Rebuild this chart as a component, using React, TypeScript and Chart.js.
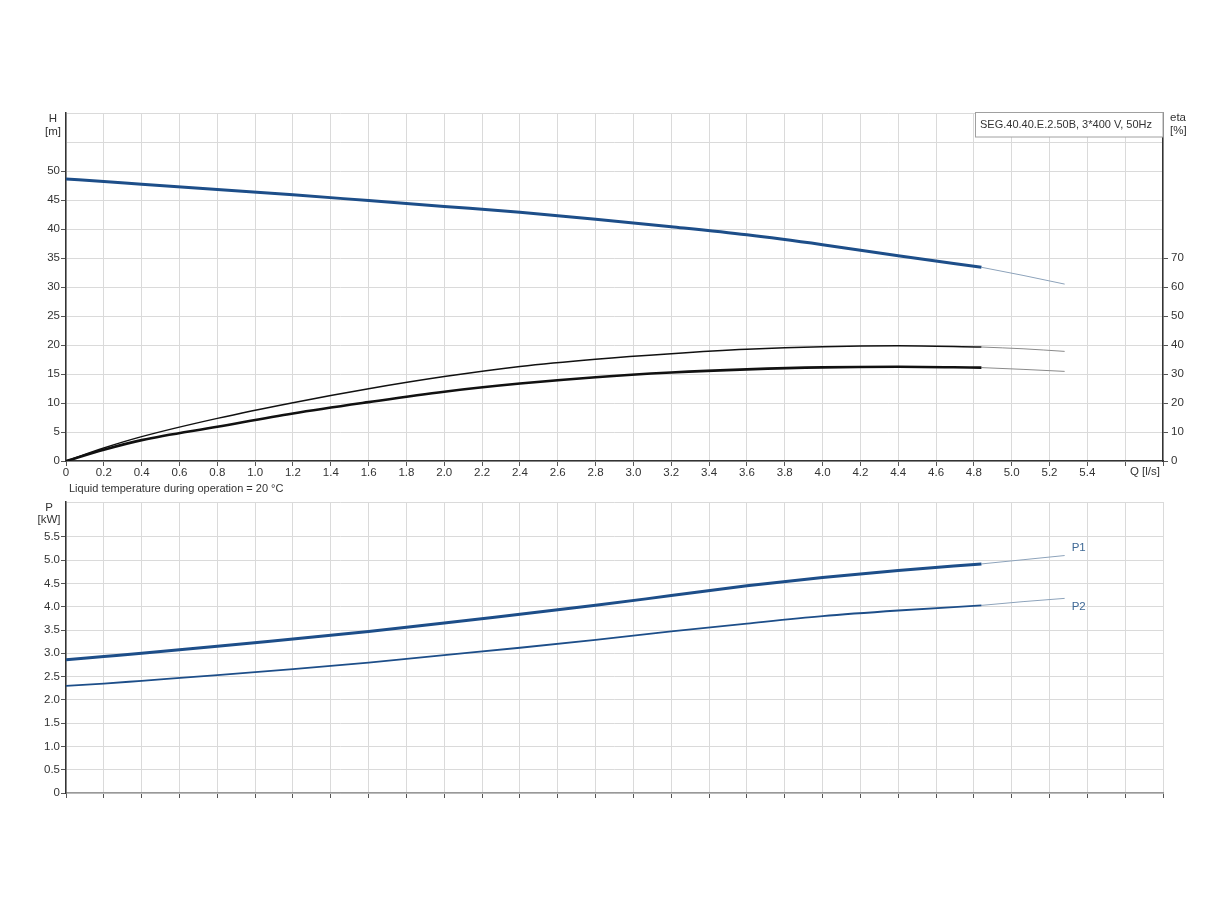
import React, { useEffect, useRef } from 'react';
import { Chart, registerables } from 'chart.js';

Chart.register(...registerables);

// Flow values (l/s) where the curves were read
const Q_MAIN = [0, 0.2, 0.4, 0.8, 1.2, 1.6, 2.0, 2.4, 2.8, 3.2, 3.6, 4.0, 4.4, 4.84];
const Q_EXT = [4.84, 5.06, 5.28];

// Head H [m]
const H_MAIN = [48.6, 48.2, 47.7, 46.8, 45.9, 44.9, 43.9, 42.9, 41.7, 40.4, 39.0, 37.3, 35.4, 33.4];
const H_EXT = [33.4, 32.0, 30.5];

// Pump efficiency eta [%]
const ETA_MAIN = [0, 4.5, 8.4, 14.7, 20.1, 24.9, 29.1, 32.6, 35.1, 37.0, 38.5, 39.4, 39.7, 39.3];
const ETA_EXT = [39.3, 38.7, 37.8];

// Total efficiency eta [%]
const ETA_TOT_MAIN = [0, 3.9, 7.2, 11.8, 16.4, 20.3, 23.9, 26.7, 28.9, 30.5, 31.6, 32.3, 32.5, 32.2];
const ETA_TOT_EXT = [32.2, 31.6, 30.9];

// Power P1 / P2 [kW]
const P1_MAIN = [2.86, 2.93, 3.0, 3.15, 3.31, 3.47, 3.65, 3.84, 4.03, 4.24, 4.45, 4.63, 4.78, 4.92];
const P1_EXT = [4.92, 5.01, 5.10];
const P2_MAIN = [2.30, 2.35, 2.41, 2.53, 2.66, 2.80, 2.96, 3.12, 3.29, 3.47, 3.64, 3.80, 3.92, 4.03];
const P2_EXT = [4.03, 4.11, 4.18];

const TITLE = 'SEG.40.40.E.2.50B, 3*400 V, 50Hz';
const NOTE = 'Liquid temperature during operation = 20 °C';

const FONT = 'Arial, "Liberation Sans", sans-serif';
const TEXT = '#333333';
const GRID = '#dadada';
const BLUE = '#1d4e89';
const BLUE_THIN = '#8da3bb';
const BLACK = '#111111';
const GRAY_THIN = '#8a8a8a';

const pts = (xs: number[], ys: number[]) => xs.map((x, i) => ({ x, y: ys[i] }));

const line = (data: any, color: string, width: number, yAxisID = 'y') => ({
  data,
  borderColor: color,
  borderWidth: width,
  pointRadius: 0,
  fill: false,
  cubicInterpolationMode: 'monotone' as const,
  yAxisID,
});

const xFmt = (v: any) => {
  const n = Number(v);
  if (n > 5.5) return '';
  return n === 0 ? '0' : n.toFixed(1);
};

export default function App() {
  const topRef = useRef<HTMLCanvasElement>(null);
  const botRef = useRef<HTMLCanvasElement>(null);

  useEffect(() => {
    Chart.defaults.font.family = FONT;
    Chart.defaults.font.size = 11.5;
    Chart.defaults.color = TEXT;

    const topPlugin = {
      id: 'topText',
      afterDraw(chart: any) {
        const ctx = chart.ctx;
        const a = chart.chartArea;
        ctx.save();
        ctx.font = `11.5px ${FONT}`;
        ctx.fillStyle = TEXT;
        ctx.textBaseline = 'middle';
        ctx.textAlign = 'center';
        ctx.fillText('H', 53, a.top + 6);
        ctx.fillText('[m]', 53, a.top + 19);
        ctx.textAlign = 'left';
        ctx.fillText('eta', a.right + 7, a.top + 5);
        ctx.fillText('[%]', a.right + 7, a.top + 18);
        // legend box
        ctx.fillStyle = '#ffffff';
        ctx.fillRect(975, a.top, a.right - 975, 24);
        ctx.strokeStyle = '#a0a0a0';
        ctx.lineWidth = 1;
        ctx.strokeRect(975.5, a.top - 0.5, a.right - 975.5, 24.5);
        ctx.fillStyle = TEXT;
        ctx.font = `11px ${FONT}`;
        ctx.fillText(TITLE, 980, a.top + 12);
        ctx.font = `11.5px ${FONT}`;
        ctx.textAlign = 'right';
        ctx.fillText('Q [l/s]', a.right - 3, a.bottom + 11);
        ctx.textAlign = 'left';
        ctx.font = `11px ${FONT}`;
        ctx.fillText(NOTE, 69, a.bottom + 28);
        ctx.restore();
      },
    };

    const botPlugin = {
      id: 'botText',
      afterDraw(chart: any) {
        const ctx = chart.ctx;
        const a = chart.chartArea;
        const xs = chart.scales.x;
        const ys = chart.scales.y;
        ctx.save();
        ctx.font = `11.5px ${FONT}`;
        ctx.fillStyle = TEXT;
        ctx.textBaseline = 'middle';
        ctx.textAlign = 'center';
        ctx.fillText('P', 49, a.top + 6);
        ctx.fillText('[kW]', 49, a.top + 18);
        ctx.textAlign = 'left';
        ctx.fillStyle = '#3f6996';
        const xe = xs.getPixelForValue(Q_EXT[Q_EXT.length - 1]) + 7;
        ctx.fillText('P1', xe, ys.getPixelForValue(P1_EXT[P1_EXT.length - 1]) - 8);
        ctx.fillText('P2', xe, ys.getPixelForValue(P2_EXT[P2_EXT.length - 1]) + 8);
        ctx.restore();
      },
    };

    const xScale = (showLabels: boolean, borderColor: string) => ({
      type: 'linear' as const,
      min: 0,
      max: 5.8,
      ticks: {
        stepSize: 0.2,
        autoSkip: false,
        maxRotation: 0,
        padding: 0,
        display: showLabels,
        callback: xFmt,
        color: TEXT,
      },
      grid: { color: GRID, lineWidth: 1, tickLength: 5, tickColor: '#555' },
      border: { display: true, color: borderColor, width: 1.5 },
      afterFit: (s: any) => { s.height = showLabels ? 25 : 10; },
    });

    const top = new Chart(topRef.current!, {
      type: 'line',
      data: {
        datasets: [
          line(pts(Q_MAIN, H_MAIN), BLUE, 3),
          line(pts(Q_EXT, H_EXT), BLUE_THIN, 1),
          line(pts(Q_MAIN, ETA_MAIN), BLACK, 1.5, 'y2'),
          line(pts(Q_EXT, ETA_EXT), GRAY_THIN, 1, 'y2'),
          line(pts(Q_MAIN, ETA_TOT_MAIN), BLACK, 2.6, 'y2'),
          line(pts(Q_EXT, ETA_TOT_EXT), GRAY_THIN, 1, 'y2'),
        ] as any,
      },
      options: {
        responsive: false,
        animation: false,
        events: [],
        layout: { padding: { top: 113, bottom: 14, left: 0, right: 0 } },
        plugins: { legend: { display: false }, tooltip: { enabled: false } },
        scales: {
          x: xScale(true, '#333'),
          y: {
            type: 'linear',
            min: 0,
            max: 60,
            ticks: {
              stepSize: 5,
              padding: 1,
              color: TEXT,
              callback: (v: any) => (Number(v) > 50 ? '' : String(v)),
            },
            grid: {
              color: GRID,
              lineWidth: 1,
              tickLength: 5,
              tickColor: (c: any) => (c.tick && c.tick.value > 50 ? 'rgba(0,0,0,0)' : '#555'),
            },
            border: { display: true, color: '#333', width: 1.5 },
            afterFit: (s: any) => { s.width = 66; },
          },
          y2: {
            type: 'linear',
            position: 'right',
            min: 0,
            max: 120,
            ticks: {
              stepSize: 10,
              padding: 3,
              color: TEXT,
              callback: (v: any) => (Number(v) > 70 ? '' : String(v)),
            },
            grid: {
              drawOnChartArea: false,
              tickLength: 5,
              tickColor: (c: any) => (c.tick && c.tick.value > 70 ? 'rgba(0,0,0,0)' : '#555'),
            },
            border: { display: true, color: '#333', width: 1.5 },
            afterFit: (s: any) => { s.width = 61; },
          },
        },
      } as any,
      plugins: [topPlugin],
    });

    const bot = new Chart(botRef.current!, {
      type: 'line',
      data: {
        datasets: [
          line(pts(Q_MAIN, P1_MAIN), BLUE, 3),
          line(pts(Q_EXT, P1_EXT), BLUE_THIN, 1),
          line(pts(Q_MAIN, P2_MAIN), BLUE, 1.8),
          line(pts(Q_EXT, P2_EXT), BLUE_THIN, 1),
        ] as any,
      },
      options: {
        responsive: false,
        animation: false,
        events: [],
        layout: { padding: { top: 22, bottom: 97, left: 0, right: 61 } },
        plugins: { legend: { display: false }, tooltip: { enabled: false } },
        scales: {
          x: xScale(false, '#999'),
          y: {
            type: 'linear',
            min: 0,
            max: 6.25,
            ticks: {
              stepSize: 0.5,
              padding: 1,
              color: TEXT,
              callback: (v: any) => {
                const n = Number(v);
                if (n > 5.5) return '';
                return n === 0 ? '0' : n.toFixed(1);
              },
            },
            grid: {
              color: GRID,
              lineWidth: 1,
              tickLength: 5,
              tickColor: (c: any) => (c.tick && c.tick.value > 6.1 ? 'rgba(0,0,0,0)' : '#555'),
            },
            border: { display: true, color: '#333', width: 1.5 },
            afterFit: (s: any) => { s.width = 66; },
          },
        },
      } as any,
      plugins: [botPlugin],
    });

    return () => {
      top.destroy();
      bot.destroy();
    };
  }, []);

  return (
    <div style={{ position: 'absolute', left: 0, top: 0, width: 1224, height: 900, background: '#ffffff' }}>
      <div style={{ position: 'absolute', left: 0, top: 0, width: 1224, height: 500 }}>
        <canvas ref={topRef} width={1224} height={500} style={{ display: 'block' }} />
      </div>
      <div style={{ position: 'absolute', left: 0, top: 480, width: 1224, height: 420 }}>
        <canvas ref={botRef} width={1224} height={420} style={{ display: 'block' }} />
      </div>
    </div>
  );
}
